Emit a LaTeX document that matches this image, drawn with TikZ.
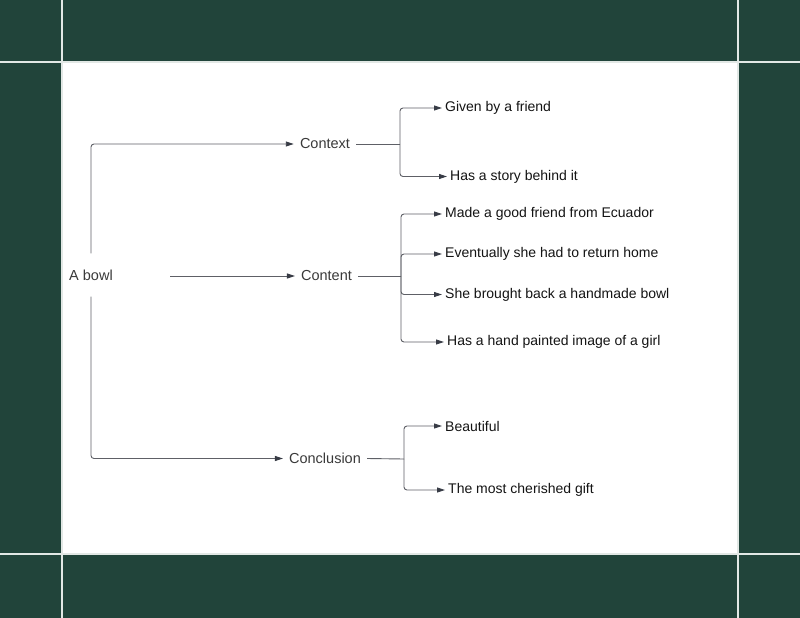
\documentclass[tikz,border=0pt]{standalone}
\usepackage{fontspec}
\setmainfont{Liberation Sans}
\usetikzlibrary{arrows.meta}
\definecolor{bggreen}{HTML}{21443A}
\definecolor{gridc}{HTML}{E2E8E5}
\definecolor{linec}{HTML}{5E6066}
\definecolor{tipc}{HTML}{373B45}
\definecolor{lvtext}{HTML}{3A3A3A}
\definecolor{leaftext}{HTML}{141414}
\tikzset{
  conn/.style={draw=linec, line width=0.9pt, rounded corners=3pt},
  arr/.style={conn, -{Triangle[length=8pt,width=5pt,fill=tipc,color=tipc]}},
  mid/.style={inner xsep=6pt, inner ysep=3pt, text=lvtext, font=\fontsize{14.5}{17}\selectfont},
  leaf/.style={anchor=west, inner xsep=3pt, inner ysep=3pt, text=leaftext, font=\fontsize{14}{16}\selectfont},
}
\begin{document}
\begin{tikzpicture}[x=1pt,y=-1pt]
\useasboundingbox (0,0) rectangle (800,618);
\fill[bggreen] (0,0) rectangle (800,618);
\fill[white] (62,62) rectangle (738,554);
\draw[gridc, line width=2pt] (62,0) -- (62,618) (738,0) -- (738,618) (0,62) -- (800,62) (0,554) -- (800,554);

% root
\node[mid, minimum height=43pt, inner xsep=0pt] (bowl) at (91,275) {A bowl};
\coordinate (bowlr) at (170,276);

% level 1
\node[mid] (ctx) at (325,144) {Context};
\node[mid] (cnt) at (326.5,276) {Content};
\node[mid] (ccl) at (325,458.5) {Conclusion};

\draw[arr] (bowl.north) |- (ctx.west);
\draw[arr] (bowlr) -- (cnt.west);
\draw[arr] (bowl.south) |- (ccl.west);

% context leaves
\node[leaf] (g1) at (442,108) {Given by a friend};
\node[leaf] (g2) at (447,176.5) {Has a story behind it};
\coordinate (j1) at (400,144);
\draw[conn] (ctx.east) -- (j1);
\draw[arr] (j1) |- (g1.west);
\draw[arr] (j1) |- (g2.west);

% content leaves
\node[leaf] (c1) at (442,214) {Made a good friend from Ecuador};
\node[leaf] (c2) at (442,254) {Eventually she had to return home};
\node[leaf] (c3) at (442,294.5) {She brought back a handmade bowl};
\node[leaf] (c4) at (444,342) {Has a hand painted image of a girl};
\coordinate (j2) at (401,276);
\draw[conn] (cnt.east) -- (j2);
\draw[arr] (j2) |- (c1.west);
\draw[arr] (j2) |- (c2.west);
\draw[arr] (j2) |- (c3.west);
\draw[arr] (j2) |- (c4.west);

% conclusion leaves
\node[leaf] (k1) at (442,426) {Beautiful};
\node[leaf] (k2) at (445,490) {The most cherished gift};
\coordinate (j3) at (404,459);
\draw[conn] (ccl.east) -- (j3);
\draw[arr] (j3) |- (k1.west);
\draw[arr] (j3) |- (k2.west);
\end{tikzpicture}
\end{document}
